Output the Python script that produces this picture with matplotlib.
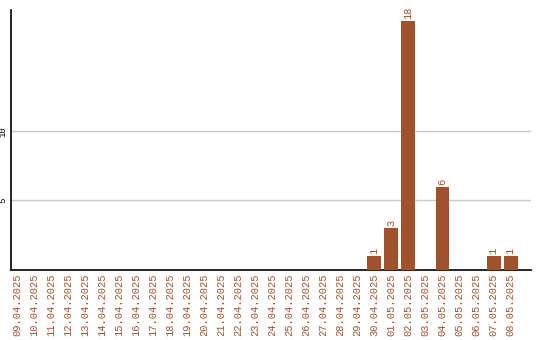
import matplotlib
matplotlib.use("Agg")
import matplotlib.pyplot as plt

dates = ["09.04.2025", "10.04.2025", "11.04.2025", "12.04.2025", "13.04.2025",
         "14.04.2025", "15.04.2025", "16.04.2025", "17.04.2025", "18.04.2025",
         "19.04.2025", "20.04.2025", "21.04.2025", "22.04.2025", "23.04.2025",
         "24.04.2025", "25.04.2025", "26.04.2025", "27.04.2025", "28.04.2025",
         "29.04.2025", "30.04.2025", "01.05.2025", "02.05.2025", "03.05.2025",
         "04.05.2025", "05.05.2025", "06.05.2025", "07.05.2025", "08.05.2025"]
values = [0, 0, 0, 0, 0, 0, 0, 0, 0, 0,
          0, 0, 0, 0, 0, 0, 0, 0, 0, 0,
          0, 1, 3, 18, 0, 6, 0, 0, 1, 1]
yticks = [5, 10]

bar_color = "#A0522D"
text_color = "#A0522D"
mono = "Liberation Mono"

fig = plt.figure(figsize=(5.4, 3.4), dpi=100)
ax = fig.add_axes([10.5 / 540, (340 - 269.5) / 340, 520.5 / 540, (269.5 - 10) / 340])

x = list(range(len(dates)))
ax.bar(x, values, width=0.82, color=bar_color, zorder=3)

for xi, v in zip(x, values):
    if v > 0:
        ax.text(xi, v + 0.15, str(v), rotation=90, ha="center", va="bottom",
                fontsize=7.5, family=mono, color=text_color)

ax.set_xlim(-0.38, 30.2)
ax.set_ylim(0, 18.8)
ax.set_xticks(x)
ax.set_xticklabels(dates, rotation=90, fontsize=7.5, family=mono,
                   color=text_color, va="top")
ax.set_yticks(yticks)
ax.set_yticklabels([str(t) for t in yticks], rotation=90, fontsize=6.5,
                   family=mono, va="center")
ax.tick_params(axis="both", length=0, pad=3)
ax.tick_params(axis="y", pad=2)
ax.grid(axis="y", color="#c8c8c8", linewidth=1, zorder=0)
ax.spines["top"].set_visible(False)
ax.spines["right"].set_visible(False)
ax.spines["left"].set_linewidth(1.2)
ax.spines["bottom"].set_linewidth(1.2)

fig.savefig("out.png", dpi=100)
